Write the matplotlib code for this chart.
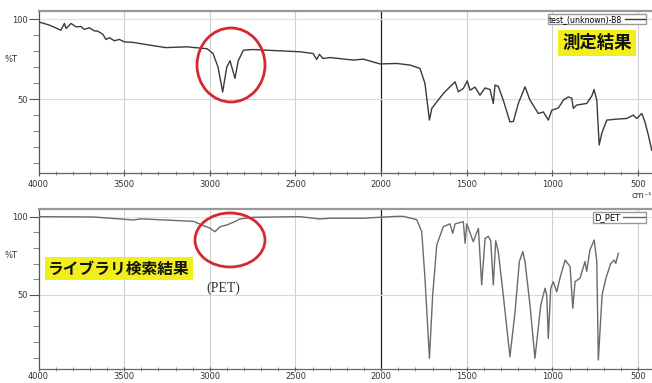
import numpy as np
import matplotlib
matplotlib.use("Agg")
import matplotlib.pyplot as plt
from matplotlib.patches import Ellipse

# ---------------- data ----------------
# measured spectrum (top)
meas_wn = [4000, 3937, 3869, 3849, 3839, 3810, 3781, 3752, 3733, 3703, 3674, 3654,
           3625, 3606, 3587, 3557, 3528, 3499, 3450, 3353, 3256, 3133, 3016, 2981,
           2952, 2925, 2901, 2882, 2853, 2834, 2804, 2748, 2473, 2397, 2376, 2360,
           2339, 2298, 2162, 2104, 2006, 1909, 1831, 1773, 1744, 1718, 1704, 1675,
           1637, 1588, 1568, 1549, 1520, 1497, 1481, 1452, 1423, 1393, 1364, 1345,
           1335, 1316, 1287, 1248, 1228, 1199, 1160, 1131, 1082, 1053, 1024, 1004,
           965, 936, 907, 887, 878, 858, 800, 770, 757, 741, 727, 712, 683, 624,
           566, 528, 508, 478, 460, 440, 420]
meas_t = [98.3, 96.3, 93.1, 97.3, 94.2, 97.3, 95.2, 95.4, 93.6, 94.6, 92.7, 92.5,
          90.6, 87.3, 88.4, 86.5, 87.3, 85.8, 85.5, 83.8, 82.2, 82.7, 81.5, 78.5,
          70.0, 54.5, 70.0, 74.0, 63.0, 74.0, 80.6, 81.0, 79.6, 78.5, 74.8, 78.0,
          75.4, 76.0, 74.4, 75.0, 72.0, 72.3, 71.3, 69.2, 59.8, 36.9, 44.2, 48.3,
          53.5, 58.8, 60.8, 54.6, 56.7, 61.4, 55.6, 57.5, 52.5, 57.0, 56.0, 47.3,
          58.8, 58.0, 49.4, 35.8, 36.0, 47.3, 57.7, 49.4, 41.0, 42.0, 36.9, 43.0,
          44.5, 49.4, 51.4, 50.6, 44.2, 46.3, 47.3, 52.0, 56.0, 49.4, 21.3, 28.6,
          36.9, 37.5, 37.9, 40.0, 37.9, 41.0, 35.8, 27.5, 18.0]

# library spectrum D_PET (bottom)
lib_wn = [4000, 3680, 3447, 3400, 3096, 2999, 2970, 2940, 2901, 2863, 2824, 2746,
          2473, 2357, 2298, 2104, 2006, 1909, 1870, 1792, 1763, 1744, 1718, 1699,
          1675, 1637, 1598, 1582, 1568, 1520, 1510, 1500, 1462, 1432, 1413, 1393,
          1374, 1360, 1345, 1331, 1316, 1287, 1248, 1218, 1193, 1173, 1160, 1131,
          1102, 1068, 1043, 1033, 1024, 1010, 995, 975, 956, 926, 897, 881, 868,
          839, 810, 800, 781, 756, 741, 732, 710, 688, 659, 640, 630, 615]
lib_t = [100.0, 99.8, 97.9, 98.6, 97.0, 92.6, 90.4, 93.6, 94.7, 96.4, 98.5, 99.6,
         100.0, 98.5, 99.0, 99.0, 99.6, 100.2, 100.2, 98.1, 90.4, 60.7, 9.6, 50.0,
         82.0, 93.6, 95.4, 89.4, 95.4, 96.8, 83.0, 95.4, 84.0, 92.6, 56.4, 86.2,
         87.4, 84.6, 56.4, 84.6, 77.7, 50.0, 10.6, 39.4, 71.3, 77.7, 71.3, 43.6,
         9.6, 43.6, 54.3, 50.0, 22.3, 54.3, 58.5, 52.0, 60.7, 72.3, 68.2, 41.5,
         58.5, 60.7, 71.3, 65.1, 78.7, 85.1, 71.3, 8.5, 50.0, 60.7, 70.2, 72.3,
         70.2, 76.6]

x_major = [4000, 3500, 3000, 2500, 2000, 1500, 1000, 500]
y_major = [50, 100]
y_minor = [10, 20, 30, 40, 60, 70, 80, 90]

plt.rcParams['font.family'] = ['DejaVu Sans']

W, H = 652, 383
fig = plt.figure(figsize=(W / 100, H / 100), dpi=100)

def px_axes(left, right, top, bottom):
    return fig.add_axes([left / W, 1 - bottom / H, (right - left) / W, (bottom - top) / H])

def style(ax, ylim, xpad, xlen):
    ax.set_xlim(4000, 400)
    ax.set_ylim(*ylim)
    ax.set_xticks(x_major)
    ax.set_xticklabels([str(v) for v in x_major])
    ax.set_xticks(np.arange(3900, 400, -100), minor=True)
    ax.set_yticks(y_major)
    ax.set_yticklabels([str(v) for v in y_major])
    ax.set_yticks(y_minor, minor=True)
    ax.tick_params(axis='both', which='major', labelsize=6, colors='#555',
                   labelcolor='#333', width=0.8)
    ax.tick_params(axis='x', which='major', direction='inout', length=xlen, pad=xpad)
    ax.tick_params(axis='y', which='major', direction='out', length=7, pad=1)
    ax.tick_params(axis='x', which='minor', direction='inout', length=3, colors='#777')
    ax.tick_params(axis='y', which='minor', direction='out', length=4, colors='#777')
    for v in x_major[1:]:
        if v == 2000:
            ax.axvline(v, color='#222', lw=0.9, zorder=1)
        else:
            ax.axvline(v, color='#d0d0d0', lw=0.8, zorder=1)
    ax.axhline(50, color='#d8d8d8', lw=0.8, zorder=1)
    ax.axhline(100, color='#e0e0e0', lw=0.8, zorder=1)
    ax.spines['right'].set_visible(False)
    ax.spines['top'].set_color('#999')
    ax.spines['top'].set_linewidth(1.6)
    ax.spines['left'].set_color('#555')
    ax.spines['bottom'].set_color('#666')
    ax.spines['left'].set_linewidth(0.9)
    ax.spines['bottom'].set_linewidth(0.9)
    ax.text(-0.045, 75, '%T', transform=ax.get_yaxis_transform(), fontsize=6,
            color='#333', ha='center', va='center')

# top panel
ax1 = px_axes(38.5, 655.2, 11, 172.7)
style(ax1, (4.0, 105.1), 3, 5)
l1, = ax1.plot(meas_wn, meas_t, color='#3a3a3a', lw=1.0, zorder=3)
ax1.legend([l1], ['test_(unknown)-B8'], loc='upper right', markerfirst=False,
           fontsize=5.6, handlelength=2.6, borderpad=0.1, handletextpad=0.4,
           frameon=True, fancybox=False, edgecolor='#999', framealpha=1,
           bbox_to_anchor=(650 / W, 1 - 10 / H), bbox_transform=fig.transFigure)
fig.text(632 / W, 1 - 195.5 / H, 'cm⁻¹', fontsize=6, color='#333', va='center', ha='left')

# bottom panel
ax2 = px_axes(38.5, 655.2, 209.3, 369)
style(ax2, (2.75, 104.7), 0.5, 3)
l2, = ax2.plot(lib_wn, lib_t, color='#6a6a6a', lw=1.0, zorder=3)
ax2.legend([l2], ['D_PET'], loc='upper right', markerfirst=False,
           fontsize=6, handlelength=2.6, borderpad=0.1, handletextpad=0.4,
           frameon=True, fancybox=False, edgecolor='#999', framealpha=1,
           bbox_to_anchor=(650 / W, 1 - 208 / H), bbox_transform=fig.transFigure)

# annotations
jp = ['Noto Sans CJK JP', 'DejaVu Sans']
fig.text(597 / W, 1 - 43 / H, '測定結果', family=jp, fontsize=12.5, fontweight='bold',
         color='#111', ha='center', va='center',
         bbox=dict(boxstyle='square,pad=0.22', facecolor='#f2ee1c', edgecolor='none'))
fig.text(119 / W, 1 - 268.5 / H, 'ライブラリ検索結果', family=jp, fontsize=11.3,
         fontweight='bold', color='#111', ha='center', va='center',
         bbox=dict(boxstyle='square,pad=0.2', facecolor='#f2ee1c', edgecolor='none'))
fig.text(223 / W, 1 - 288 / H, '(PET)', family=['Liberation Serif', 'DejaVu Serif'],
         fontsize=10, color='#333', ha='center', va='center')

fig.add_artist(Ellipse((231 / W, 1 - 65 / H), 68 / W, 74 / H, transform=fig.transFigure,
                       fill=False, edgecolor='#d42a2f', lw=2.0))
fig.add_artist(Ellipse((230 / W, 1 - 240 / H), 70 / W, 54 / H, transform=fig.transFigure,
                       fill=False, edgecolor='#d42a2f', lw=2.0))

fig.savefig('out.png', dpi=100)
